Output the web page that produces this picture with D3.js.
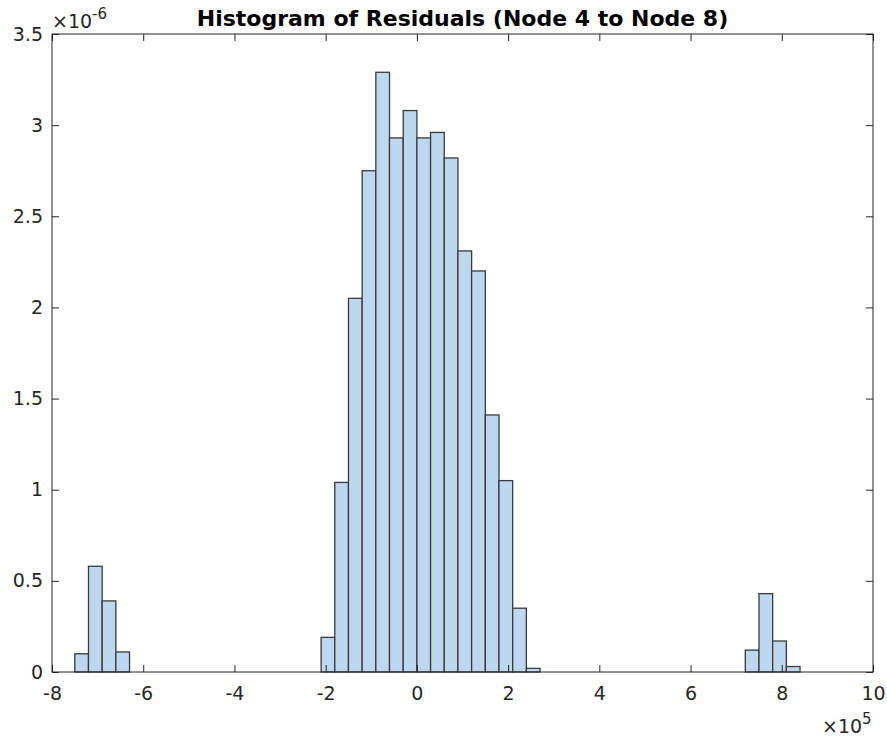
<!DOCTYPE html>
<html>
<head>
<meta charset="utf-8">
<script src="https://cdn.jsdelivr.net/npm/d3@7"></script>
<style>
  body { margin: 0; background: #fff; }
  svg text { font-family: "DejaVu Sans", sans-serif; fill: #262626; }
</style>
</head>
<body>
<svg id="svg" width="887" height="738"></svg>
<script>
// bin edges in units of 1e5, densities in units of 1e-6
const binStarts = [-7.5, -7.2, -6.9, -6.6,
  -2.1, -1.8, -1.5, -1.2, -0.9, -0.6, -0.3, 0, 0.3, 0.6, 0.9, 1.2, 1.5, 1.8, 2.1, 2.4,
  7.2, 7.5, 7.8, 8.1];
const binWidth = 0.3;
const density = [0.10, 0.58, 0.39, 0.11,
  0.19, 1.04, 2.05, 2.75, 3.29, 2.93, 3.08, 2.93, 2.96, 2.82, 2.31, 2.20, 1.41, 1.05, 0.35, 0.02,
  0.12, 0.43, 0.17, 0.03];
const xTicks = [-8, -6, -4, -2, 0, 2, 4, 6, 8, 10];
const yTicks = [0, 0.5, 1, 1.5, 2, 2.5, 3, 3.5];

const svg = d3.select("#svg");
const m = {left: 52, right: 873, top: 34, bottom: 672};

const x = d3.scaleLinear().domain([-8, 10]).range([m.left, m.right]);
const y = d3.scaleLinear().domain([0, 3.5]).range([m.bottom, m.top]);

// bars
svg.append("g").selectAll("rect")
   .data(binStarts)
   .join("rect")
   .attr("x", (d) => x(d))
   .attr("width", (d) => x(d + binWidth) - x(d))
   .attr("y", (d, i) => y(density[i]))
   .attr("height", (d, i) => y(0) - y(density[i]))
   .style("fill", "#bdd7ee")
   .style("stroke", "#3a3a3a")
   .style("stroke-width", 1.3);

const fmt = (d) => String(d);

// bottom and top axes, ticks inward
svg.append("g")
   .attr("transform", `translate(0,${m.bottom})`)
   .call(d3.axisBottom(x).tickValues(xTicks).tickSize(-7).tickPadding(15).tickFormat(fmt))
   .call(g => g.select(".domain").remove());
svg.append("g")
   .attr("transform", `translate(0,${m.top})`)
   .call(d3.axisTop(x).tickValues(xTicks).tickSize(-7).tickFormat(""))
   .call(g => g.select(".domain").remove());
svg.append("g")
   .attr("transform", `translate(${m.left},0)`)
   .call(d3.axisLeft(y).tickValues(yTicks).tickSize(-7).tickPadding(9).tickFormat(fmt))
   .call(g => g.select(".domain").remove());
svg.append("g")
   .attr("transform", `translate(${m.right},0)`)
   .call(d3.axisRight(y).tickValues(yTicks).tickSize(-7).tickFormat(""))
   .call(g => g.select(".domain").remove());

svg.selectAll(".tick line").style("stroke", "#262626");
svg.selectAll(".tick text").style("font-size", "19px").style("fill", "#262626");

// box
svg.append("rect")
   .attr("x", m.left).attr("y", m.top)
   .attr("width", m.right - m.left).attr("height", m.bottom - m.top)
   .style("fill", "none").style("stroke", "#262626").style("stroke-width", 1);

// title
svg.append("text")
   .attr("x", (m.left + m.right) / 2).attr("y", 26)
   .attr("text-anchor", "middle")
   .style("font-size", "22px").style("font-weight", "bold").style("fill", "#000")
   .text("Histogram of Residuals (Node 4 to Node 8)");

// exponent labels
const e1 = svg.append("text").attr("x", 52).attr("y", 28).style("font-size", "19px");
e1.append("tspan").text("\u00d710");
e1.append("tspan").attr("dy", -9).style("font-size", "15px").text("-6");

const e2 = svg.append("text").attr("x", 822).attr("y", 733).style("font-size", "19px");
e2.append("tspan").text("\u00d710");
e2.append("tspan").attr("dy", -9).style("font-size", "15px").text("5");
</script>
</body>
</html>
